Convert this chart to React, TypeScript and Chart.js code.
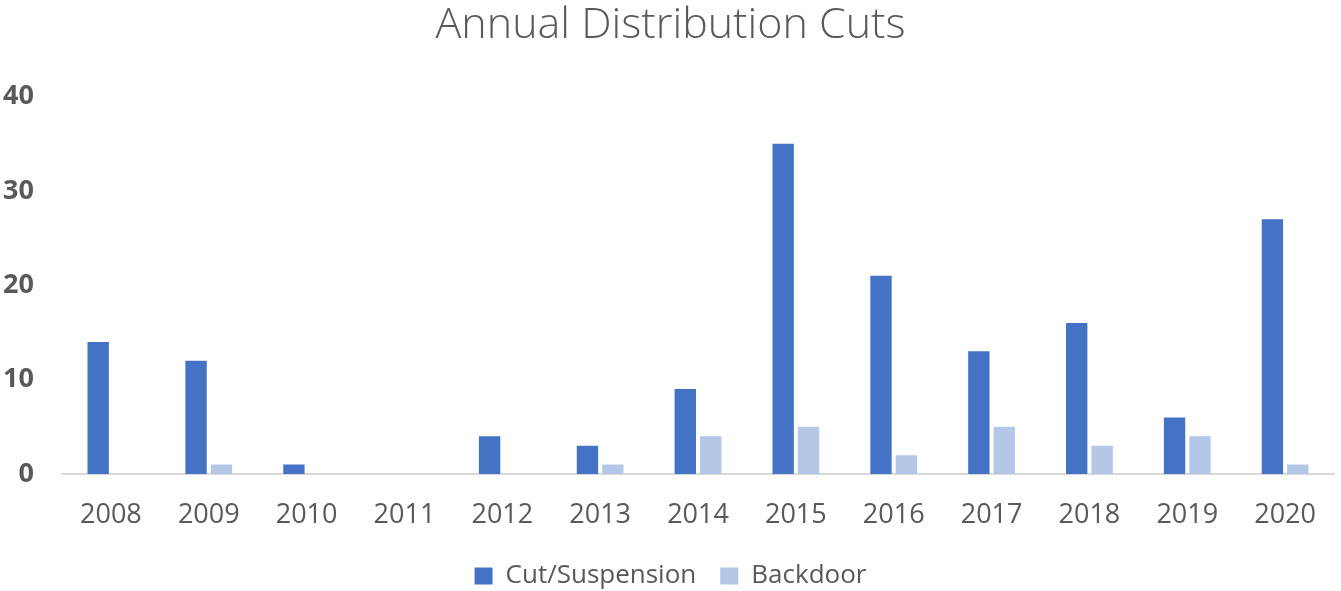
import React, { useEffect, useRef } from "react";
import { Chart, registerables } from "chart.js";

Chart.register(...registerables);

const years = ["2008","2009","2010","2011","2012","2013","2014","2015","2016","2017","2018","2019","2020"];
const cutSuspension = [14, 12, 1, 0, 4, 3, 9, 35, 21, 13, 16, 6, 27];
const backdoor = [0, 1, 0, 0, 0, 1, 4, 5, 2, 5, 3, 4, 1];
const yTicks = [0, 10, 20, 30, 40];

const FONT = "'Open Sans', 'Noto Sans', sans-serif";
const TEXT = "#595959";

export default function App() {
  const ref = useRef<HTMLCanvasElement | null>(null);
  useEffect(() => {
    document.body.style.margin = "0";
    const ctx = ref.current!;
    const chart = new Chart(ctx, {
      type: "bar",
      data: {
        labels: years,
        datasets: [
          { label: "Cut/Suspension", data: cutSuspension, backgroundColor: "#4472C4", borderWidth: 0 },
          { label: "Backdoor", data: backdoor, backgroundColor: "#B4C7E7", borderWidth: 0 },
        ],
      },
      options: {
        responsive: false,
        animation: false,
        layout: { padding: { left: 0, right: 0, top: 0, bottom: -8 } },
        datasets: { bar: { categoryPercentage: 0.52, barPercentage: 0.84 } },
        plugins: {
          title: {
            display: true,
            text: "Annual Distribution Cuts",
            color: TEXT,
            font: { family: FONT, size: 43, weight: "300" as any },
            padding: { top: 0, bottom: 45 },
          },
          legend: {
            position: "bottom",
            labels: {
              color: TEXT,
              font: { family: FONT, size: 26 },
              boxWidth: 18,
              boxHeight: 17,
              padding: 24,
            },
          },
          tooltip: { enabled: false },
        },
        scales: {
          x: {
            afterFit: (s: any) => { s.height = 65; },
            grid: { display: false, drawTicks: false },
            border: { display: true, color: "#D9D9D9", width: 2 },
            ticks: { color: TEXT, font: { family: FONT, size: 27 }, padding: 25 },
          },
          y: {
            min: 0,
            max: 40,
            afterFit: (s: any) => { s.width = 62; },
            afterBuildTicks: (axis: any) => { axis.ticks = yTicks.map((v) => ({ value: v })); },
            grid: { display: false, drawTicks: false },
            border: { display: false },
            ticks: { color: TEXT, font: { family: FONT, size: 27, weight: "bold" }, padding: 28 },
          },
        },
      },
    });
    return () => chart.destroy();
  }, []);
  return <canvas ref={ref} width={1341} height={591} style={{ display: "block" }} />;
}
